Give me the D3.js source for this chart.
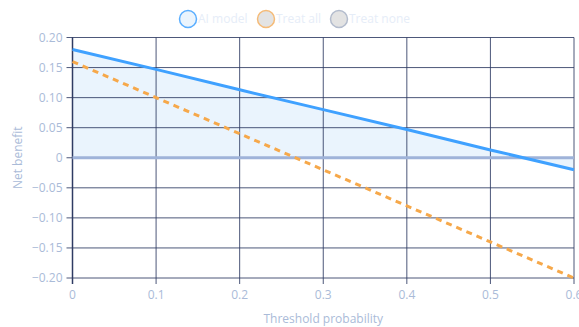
<!DOCTYPE html>
<html><head><meta charset="utf-8">
<script src="https://cdn.jsdelivr.net/npm/d3@7"></script>
<style>html,body{margin:0;padding:0;background:#fff;overflow:hidden}</style>
</head><body><svg id="c" width="579" height="327"></svg>
<script>
const thresholds = [0, 0.1, 0.2, 0.3, 0.4, 0.5, 0.6];
const aiModel   = [0.18, 0.147, 0.113, 0.08, 0.047, 0.013, -0.02];
const treatAll  = [0.16, 0.10, 0.04, -0.02, -0.08, -0.14, -0.20];
const treatNone = [0, 0, 0, 0, 0, 0, 0];
const seriesNames = ["AI model", "Treat all", "Treat none"];
const xTicks = [0, 0.1, 0.2, 0.3, 0.4, 0.5, 0.6];
const yTicks = [0.20, 0.15, 0.10, 0.05, 0, -0.05, -0.10, -0.15, -0.20];

const svg = d3.select("#c");
const font = "'Segoe UI','Open Sans','Noto Sans',sans-serif";
const m = {l: 72.5, r: 574, t: 37.5, b: 278};
const x = d3.scaleLinear().domain([0, 0.6]).range([m.l, m.r]);
const y = d3.scaleLinear().domain([-0.2, 0.2]).range([m.b, m.t]);
const gridC = "#2e3b63", labC = "#aabbd8";

// area
const area = d3.area().x((d,i)=>x(thresholds[i])).y0(y(0)).y1(d=>y(d));
svg.append("path").datum(aiModel).attr("d", area).attr("fill", "#eaf4fd");

// grid
svg.append("g").selectAll("line").data(yTicks).join("line")
  .attr("x1", m.l - 6).attr("x2", m.r).attr("y1", d=>y(d)).attr("y2", d=>y(d))
  .attr("stroke", gridC).attr("stroke-width", 1).attr("opacity", 0.85);
svg.append("g").selectAll("line").data(xTicks).join("line")
  .attr("y1", m.t).attr("y2", m.b + 6).attr("x1", d=>x(d)).attr("x2", d=>x(d))
  .attr("stroke", gridC).attr("stroke-width", 1).attr("opacity", 0.85);
svg.append("line").attr("x1", m.l).attr("x2", m.l).attr("y1", m.t).attr("y2", m.b + 6)
  .attr("stroke", gridC).attr("stroke-width", 1.5);

// tick labels
svg.append("g").selectAll("text").data(yTicks).join("text")
  .attr("x", m.l - 10).attr("y", d=>y(d)).attr("dy", "0.35em").attr("text-anchor", "end")
  .attr("font-family", font).attr("font-size", 12).attr("fill", labC)
  .text(d => d === 0 ? "0" : d3.format(".2f")(d).replace("-", "-"));
svg.append("g").selectAll("text").data(xTicks).join("text")
  .attr("x", d=>x(d)).attr("y", m.b + 21).attr("text-anchor", "middle")
  .attr("font-family", font).attr("font-size", 12).attr("fill", labC)
  .text(d => d === 0 ? "0" : String(d));

// axis titles
svg.append("text").attr("x", (m.l + m.r)/2).attr("y", 323).attr("text-anchor", "middle")
  .attr("font-family", font).attr("font-size", 12).attr("fill", labC).text("Threshold probability");
svg.append("text").attr("transform", `translate(22,${y(0)}) rotate(-90)`).attr("text-anchor", "middle")
  .attr("font-family", font).attr("font-size", 12).attr("fill", labC).text("Net benefit");

// lines
const line = d3.line().x((d,i)=>x(thresholds[i])).y(d=>y(d));
svg.append("path").datum(treatNone).attr("d", line).attr("fill", "none")
  .attr("stroke", "#9fb3d9").attr("stroke-width", 3);
svg.append("path").datum(treatAll).attr("d", line).attr("fill", "none")
  .attr("stroke", "#f6a84a").attr("stroke-width", 3).attr("stroke-dasharray", "6,5");
svg.append("path").datum(aiModel).attr("d", line).attr("fill", "none")
  .attr("stroke", "#3fa1ff").attr("stroke-width", 3);

// legend
const leg = [
  {name: seriesNames[0], fill: "#eaf4fd", stroke: "#5aaeff", cx: 188, tx: 198},
  {name: seriesNames[1], fill: "#e3e3e3", stroke: "#f5bb78", cx: 266, tx: 276},
  {name: seriesNames[2], fill: "#e3e3e3", stroke: "#b3bccd", cx: 339, tx: 349}
];
const lg = svg.append("g").selectAll("g").data(leg).join("g");
lg.append("circle").attr("cx", d=>d.cx).attr("cy", 19).attr("r", 8.5)
  .attr("fill", d=>d.fill).attr("stroke", d=>d.stroke).attr("stroke-width", 1.5);
lg.append("text").attr("x", d=>d.tx).attr("y", 19).attr("dy", "0.35em")
  .attr("font-family", font).attr("font-size", 12).attr("fill", "#e6edf8").text(d=>d.name);
</script></body></html>
